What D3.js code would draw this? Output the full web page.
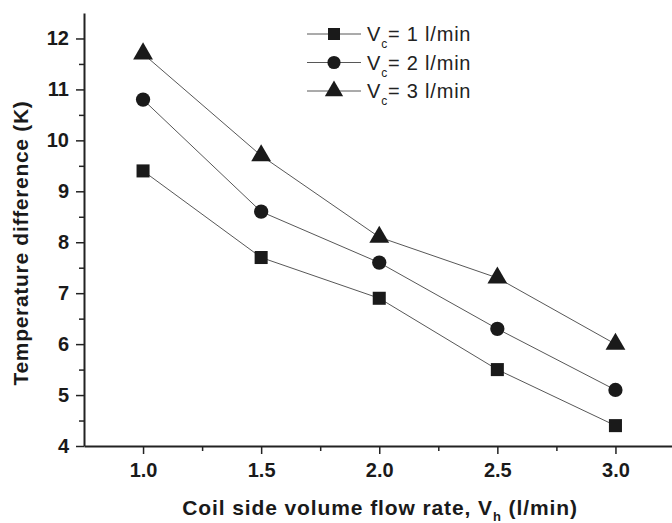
<!DOCTYPE html>
<html>
<head>
<meta charset="utf-8">
<script src="https://cdn.jsdelivr.net/npm/d3@7"></script>
<style>
  body { margin: 0; background: #fff; }
  svg { display: block; font-family: "Liberation Sans", Arial, sans-serif; }
</style>
</head>
<body>
<div id="chart"></div>
<script>
// Coil side flow rates (l/min)
var flowRates = [1.0, 1.5, 2.0, 2.5, 3.0];

// Temperature difference (K) for each cold side flow rate
var vc1 = [9.4, 7.7, 6.9, 5.5, 4.4];
var vc2 = [10.8, 8.6, 7.6, 6.3, 5.1];
var vc3 = [11.7, 9.7, 8.1, 7.3, 6.0];

var seriesNames = ['1', '2', '3'];
var xTicks = [1.0, 1.5, 2.0, 2.5, 3.0];
var yTicks = [4, 5, 6, 7, 8, 9, 10, 11, 12];

var series = [
  { name: seriesNames[0], values: vc1, symbol: d3.symbolSquare, size: 170 },
  { name: seriesNames[1], values: vc2, symbol: d3.symbolCircle, size: 160 },
  { name: seriesNames[2], values: vc3, symbol: d3.symbolTriangle, size: 170 },
];

var width = 672, height = 523;
var margin = { left: 84, top: 13, bottom: 77 };
var fontFam = 'Liberation Sans, Arial, sans-serif';

var x = d3.scaleLinear().domain([0.75, 3.25]).range([margin.left, 674.5]);
var y = d3.scaleLinear().domain([4, 12.5]).range([height - margin.bottom, margin.top]);

var svg = d3.select('#chart').append('svg').attr('width', width).attr('height', height);

// Bottom axis with major and minor ticks
var xMinor = d3.range(1.25, 3.25, 0.5);
svg.append('g')
  .attr('transform', `translate(0,${y(4)})`)
  .call(d3.axisBottom(x).tickValues(xMinor).tickSize(5).tickFormat(''))
  .call((g) => g.select('.domain').remove())
  .selectAll('line').attr('stroke', '#222').attr('stroke-width', 1.5);

var xAxis = svg.append('g')
  .attr('transform', `translate(0,${y(4)})`)
  .call(d3.axisBottom(x).tickValues(xTicks).tickSize(8).tickSizeOuter(0).tickPadding(9)
    .tickFormat(d3.format('.1f')));
xAxis.select('.domain').attr('stroke', '#222').attr('stroke-width', 2);
xAxis.selectAll('.tick line').attr('stroke', '#222').attr('stroke-width', 1.5);
xAxis.selectAll('text').attr('font-size', 20).attr('font-weight', 'bold')
  .attr('font-family', fontFam).attr('fill', '#1a1a1a');

// Left axis
var yMinor = d3.range(4.5, 12.5, 1);
svg.append('g')
  .attr('transform', `translate(${margin.left},0)`)
  .call(d3.axisLeft(y).tickValues(yMinor).tickSize(5).tickFormat(''))
  .call((g) => g.select('.domain').remove())
  .selectAll('line').attr('stroke', '#222').attr('stroke-width', 1.5);

var yAxis = svg.append('g')
  .attr('transform', `translate(${margin.left},0)`)
  .call(d3.axisLeft(y).tickValues(yTicks).tickSize(8).tickSizeOuter(0).tickPadding(7));
yAxis.select('.domain').attr('stroke', '#222').attr('stroke-width', 2);
yAxis.selectAll('.tick line').attr('stroke', '#222').attr('stroke-width', 1.5);
yAxis.selectAll('text').attr('font-size', 20).attr('font-weight', 'bold')
  .attr('font-family', fontFam).attr('fill', '#1a1a1a');

// Axis titles
svg.append('text')
  .attr('x', 380).attr('y', 515)
  .attr('text-anchor', 'middle')
  .attr('font-size', 21).attr('font-weight', 'bold').attr('fill', '#1a1a1a')
  .attr('letter-spacing', 0.9)
  .call((t) => {
    t.append('tspan').text('Coil side volume flow rate, V');
    t.append('tspan').attr('font-size', 13).attr('dy', 6).text('h');
    t.append('tspan').attr('dy', -6).text(' (l/min)');
  });

svg.append('text')
  .attr('transform', `translate(28,243) rotate(-90)`)
  .attr('text-anchor', 'middle')
  .attr('font-size', 21).attr('font-weight', 'bold').attr('fill', '#1a1a1a')
  .attr('letter-spacing', 0.7)
  .text('Temperature difference (K)');

// Lines and markers
var line = d3.line().x((d, i) => x(flowRates[i])).y((d) => y(d));

series.forEach((s) => {
  svg.append('path')
    .attr('d', line(s.values))
    .attr('fill', 'none')
    .attr('stroke', '#444')
    .attr('stroke-width', 0.9);

  svg.selectAll(null)
    .data(s.values)
    .join('path')
    .attr('transform', (d, i) => `translate(${x(flowRates[i])},${y(d)})`)
    .attr('d', d3.symbol(s.symbol, s.size))
    .attr('fill', '#1a1a1a');
});

// Legend
var legend = svg.append('g').attr('transform', 'translate(307,34)');
series.forEach((s, i) => {
  var row = legend.append('g').attr('transform', `translate(0,${i * 28.5})`);
  row.append('line').attr('x1', 0).attr('x2', 54).attr('stroke', '#444').attr('stroke-width', 0.9);
  row.append('path').attr('transform', 'translate(27,0)')
    .attr('d', d3.symbol(s.symbol, s.size * 0.85)).attr('fill', '#1a1a1a');
  var t = row.append('text').attr('x', 60).attr('y', 7)
    .attr('font-size', 20).attr('fill', '#222').attr('letter-spacing', 0.8);
  t.append('tspan').text('V');
  t.append('tspan').attr('font-size', 12).attr('dy', 7).text('c');
  t.append('tspan').attr('dy', -7).text(`= ${s.name} l/min`);
});
</script>
</body>
</html>
